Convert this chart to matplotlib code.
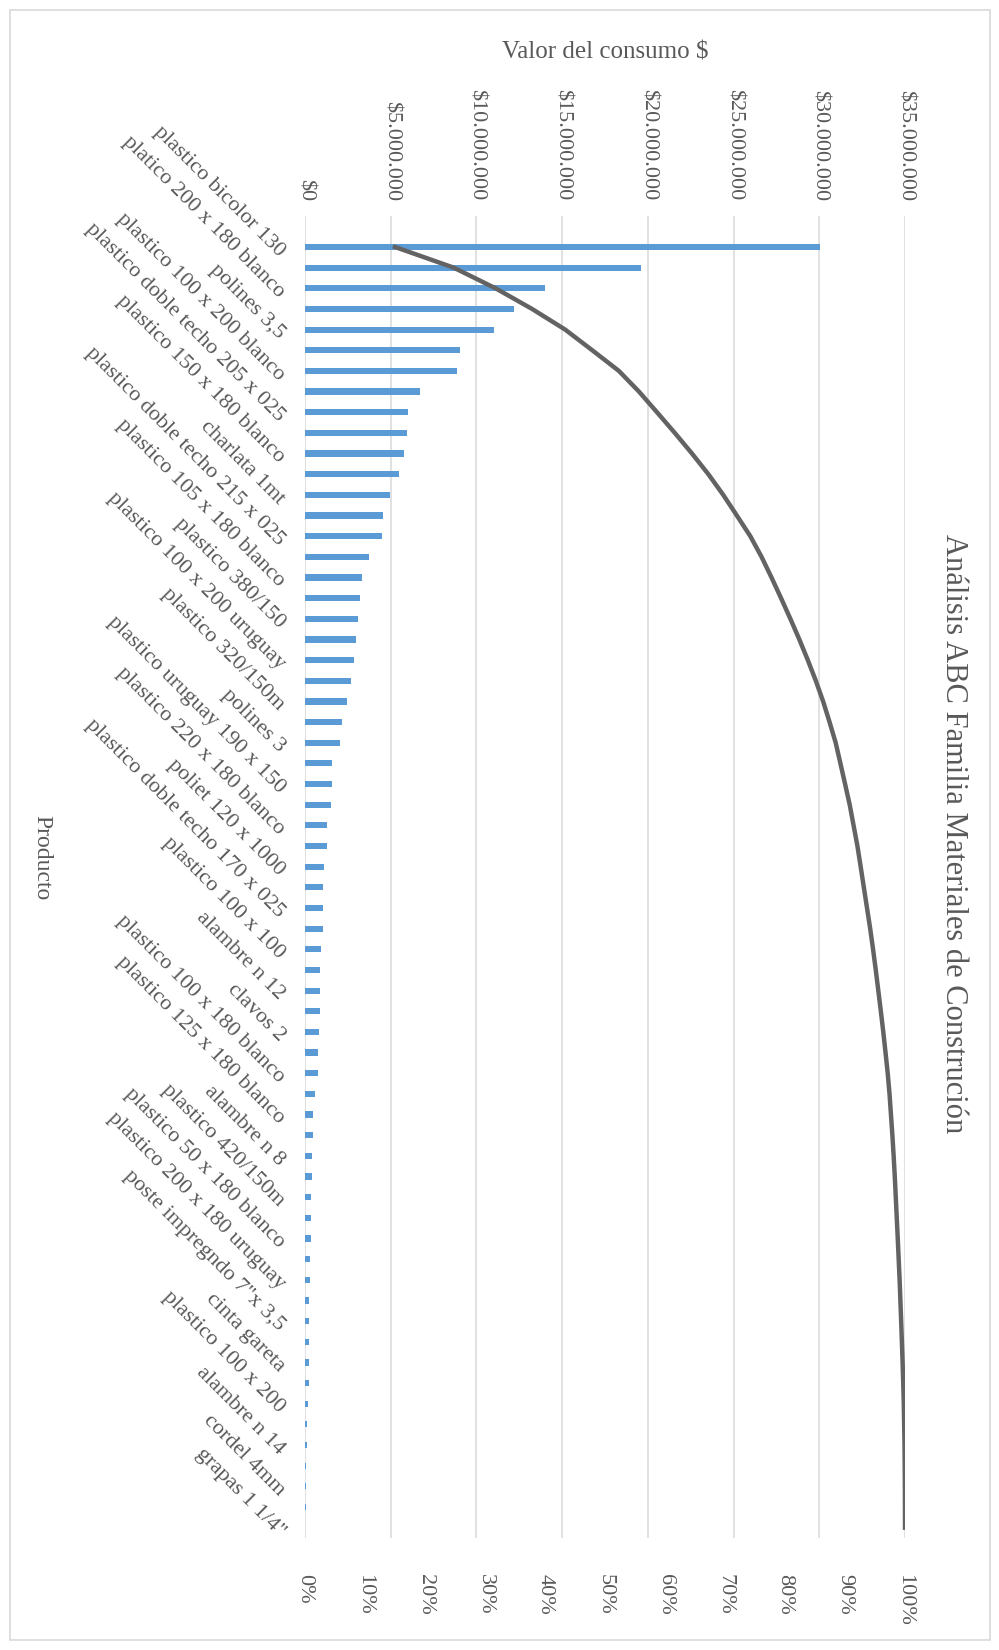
import numpy as np
import matplotlib.pyplot as plt
from matplotlib.ticker import FuncFormatter, MultipleLocator
from matplotlib.patches import Rectangle

WRITE_FILENAME = 'out.png'

TITLE = 'Análisis ABC Familia Materiales de Construción'
X_LABEL = 'Valor del consumo $'
Y_LABEL = 'Producto'

# valor del consumo por producto ($), de mayor a menor
consumo = [
	30040000, 19590000, 13980000, 12190000, 11050000, 9040000, 8890000,
	6690000, 6020000, 5940000, 5750000, 5460000, 4960000, 4550000, 4490000,
	3750000, 3330000, 3190000, 3100000, 3000000, 2830000, 2670000, 2440000,
	2150000, 2040000, 1580000, 1560000, 1540000, 1290000, 1290000,
	1080000, 1060000, 1060000, 1060000, 960000, 900000, 850000, 850000,
	810000, 750000, 730000, 600000, 480000, 480000, 420000,
	380000, 330000, 330000, 330000, 310000, 310000, 260000, 260000,
	240000, 240000, 210000, 190000, 120000, 120000, 70000, 50000, 30000,
	10000,
]

# el eje solo rotula un producto de cada dos
etiquetas = [
	'plastico bicolor 130', 'platico 200 x 180 blanco', 'polines 3,5',
	'plastico 100 x 200 blanco', 'plastico doble techo 205 x 025',
	'plastico 150 x 180 blanco', 'charlata 1mt',
	'plastico doble techo 215 x 025', 'plastico 105 x 180 blanco',
	'plastico 380/150', 'plastico 100 x 200 uruguay', 'plastico 320/150m',
	'polines 3', 'plastico uruguay 190 x 150', 'plastico 220 x 180 blanco',
	'poliet 120 x 1000', 'plastico doble techo 170 x 025',
	'plastico 100 x 100', 'alambre n 12', 'clavos 2',
	'plastico 100 x 180 blanco', 'plastico 125 x 180 blanco', 'alambre n 8',
	'plastico 420/150m', 'plastico 50 x 180 blanco',
	'plastico 200 x 180 uruguay', 'poste impregndo 7"x 3,5', 'cinta gareta',
	'plastico 100 x 200', 'alambre n 14', 'cordel 4mm', 'grapas 1 1/4"',
]

X_MAX = 35000000
X_STEP = 5000000

BAR_COLOR = '#5B9BD5'
LINE_COLOR = '#636363'
GRID_COLOR = '#D9D9D9'
TEXT_COLOR = '#595959'
FONT = 'Liberation Serif'


def pesos(v, pos):
	return '${:,.0f}'.format(v).replace(',', '.')


def porcentaje(v, pos):
	return '{:.0f}%'.format(v * 100)


def main():
	plt.rcParams['font.family'] = FONT
	plt.rcParams['text.color'] = TEXT_COLOR

	valores = np.array(consumo, dtype=float)
	acumulado = np.cumsum(valores) / valores.sum()
	pos = np.arange(len(valores))

	fig = plt.figure(figsize=(9.99, 16.5), dpi=100)
	fig.patches.append(Rectangle((10 / 999, 10 / 1650), 980 / 999, 1630 / 1650,
		transform=fig.transFigure, fill=False, edgecolor=GRID_COLOR, linewidth=1.2))

	ax = fig.add_axes([305 / 999, 1 - 1538 / 1650, 600 / 999, 1322 / 1650])
	ax.barh(pos, valores, height=0.3, color=BAR_COLOR, zorder=2)
	ax.set_xlim(0, X_MAX)
	ax.set_ylim(len(valores) - 0.5, -1.5)

	ax.set_yticks(pos[::2])
	ax.set_yticklabels(etiquetas, rotation=-45, rotation_mode='anchor',
		ha='right', va='top')
	ax.tick_params(axis='y', length=0, pad=12, labelsize=16, labelcolor=TEXT_COLOR)
	ax.grid(True, axis='x', color=GRID_COLOR, linewidth=1.1, zorder=0)

	# curva de porcentaje acumulado en el eje secundario
	ax2 = ax.twiny()
	ax2.plot(acumulado, pos, color=LINE_COLOR, linewidth=3.2, zorder=3)
	ax2.set_xlim(0, 1)
	ax2.xaxis.tick_bottom()
	ax2.xaxis.set_major_locator(MultipleLocator(0.1))
	ax2.xaxis.set_major_formatter(FuncFormatter(porcentaje))
	ax2.tick_params(axis='x', length=0, pad=26, labelsize=16, labelcolor=TEXT_COLOR,
		labelrotation=-90)

	# valores en pesos arriba
	ax.xaxis.tick_top()
	ax.xaxis.set_major_locator(MultipleLocator(X_STEP))
	ax.xaxis.set_major_formatter(FuncFormatter(pesos))
	ax.tick_params(axis='x', length=0, pad=11, labelsize=16, labelcolor=TEXT_COLOR,
		labelrotation=-90)

	for a in (ax, ax2):
		for s in a.spines.values():
			s.set_visible(False)

	fig.text(605 / 999, 1 - 52 / 1650, X_LABEL, ha='center', va='center',
		fontsize=18, color=TEXT_COLOR)
	fig.text(42 / 999, 1 - 858 / 1650, Y_LABEL, ha='center', va='center',
		rotation=-90, fontsize=17, color=TEXT_COLOR)
	fig.text(953 / 999, 1 - 834 / 1650, TITLE, ha='center', va='center',
		rotation=-90, fontsize=22, color=TEXT_COLOR)

	fig.savefig(WRITE_FILENAME, dpi=100)
	plt.close(fig)


if __name__ == '__main__':
	main()
